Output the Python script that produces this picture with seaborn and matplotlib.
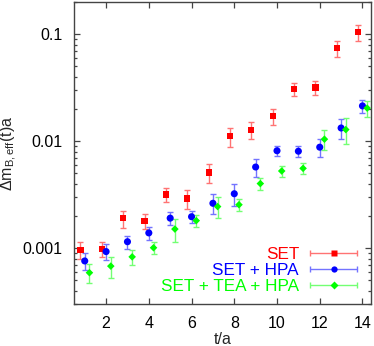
import matplotlib
matplotlib.use('Agg')
import matplotlib.pyplot as plt
import matplotlib.colors as mcolors
import numpy as np
import pandas as pd
import seaborn as sns
from matplotlib.container import ErrorbarContainer
from matplotlib.legend_handler import HandlerErrorbar
from matplotlib.ticker import FixedLocator, FuncFormatter, LogLocator, NullFormatter

# data (t/a = 1..14, series drawn slightly offset)
t = np.arange(1, 15)

set_val = [0.00096, 0.00099, 0.0019, 0.00179, 0.00318, 0.00292, 0.0051,
           0.0111, 0.0128, 0.0172, 0.0306, 0.0318, 0.0746, 0.105]
set_err = [0.000175, 0.00016, 0.00035, 0.00028, 0.00047, 0.00058, 0.001,
           0.0022, 0.0022, 0.0029, 0.0041, 0.005, 0.0127, 0.018]

hpa_val = [0.00076, 0.00093, 0.00115, 0.00139, 0.00191, 0.00197, 0.00263,
           0.00323, 0.00574, 0.00815, 0.00807, 0.0088, 0.0133, 0.0214]
hpa_err = [0.00014, 0.000155, 0.00016, 0.0002, 0.00026, 0.00024, 0.00055,
           0.00074, 0.00106, 0.00093, 0.00095, 0.0016, 0.0029, 0.0029]

tea_val = [0.00059, 0.00068, 0.00083, 0.00101, 0.00151, 0.00181, 0.00245,
           0.00255, 0.00402, 0.00527, 0.00558, 0.01045, 0.01285, 0.0204]
tea_err = [0.000117, 0.00015, 0.00014, 0.000125, 0.00037, 0.00023, 0.00054,
           0.00032, 0.00053, 0.00066, 0.00068, 0.0022, 0.0035, 0.0034]

names = ['SET', 'SET + HPA', 'SET + TEA + HPA']
colors = ['#ff0000', '#0000ff', '#00ff00']
markers = ['s', 'o', 'D']
sizes = [20, 26, 15]
shifts = [-0.2, 0.0, 0.22]

frames = []
for name, vals, errs, sh in zip(names, [set_val, hpa_val, tea_val],
                                [set_err, hpa_err, tea_err], shifts):
    frames.append(pd.DataFrame({'t': t, 'x': t + sh, 'value': vals,
                                'err': errs, 'series': name}))
df = pd.concat(frames, ignore_index=True)

def lighten(c, amt=0.45):
    r = np.array(mcolors.to_rgb(c))
    return tuple(r + (1 - r) * amt)

sns.set_theme(style='ticks')
plt.rcParams['font.family'] = ['Liberation Sans', 'DejaVu Sans']
plt.rcParams['mathtext.fontset'] = 'custom'
plt.rcParams['mathtext.rm'] = 'Liberation Sans'
plt.rcParams['mathtext.it'] = 'Liberation Sans:italic'
plt.rcParams['mathtext.default'] = 'regular'

fig, ax = plt.subplots(figsize=(3.74, 3.46), dpi=100)
fig.subplots_adjust(left=0.198, right=0.992, bottom=0.121, top=0.994)

for name, c in zip(names, colors):
    d = df[df.series == name]
    ax.errorbar(d.x, d.value, yerr=d.err, fmt='none', ecolor=lighten(c),
                elinewidth=1, capsize=2.5, capthick=1, zorder=2)

sns.scatterplot(data=df, x='x', y='value', hue='series', style='series',
                size='series', palette=dict(zip(names, colors)),
                markers=dict(zip(names, markers)),
                sizes=dict(zip(names, sizes)), linewidth=0,
                legend=False, ax=ax, zorder=3)

ax.set_yscale('log')
ax.set_xlim(0.5, 14.4)
ax.set_ylim(0.0003, 0.2)

ax.xaxis.set_major_locator(FixedLocator([2, 4, 6, 8, 10, 12, 14]))
ax.yaxis.set_major_locator(FixedLocator([0.001, 0.01, 0.1]))
ax.yaxis.set_major_formatter(FuncFormatter(lambda v, p: f'{v:g}'))
ax.yaxis.set_minor_locator(LogLocator(base=10, subs=np.arange(2, 10)))
ax.yaxis.set_minor_formatter(NullFormatter())

spine_col = '#444444'
for s in ax.spines.values():
    s.set_color(spine_col)
    s.set_linewidth(1.0)
ax.tick_params(which='both', direction='in', top=True, right=True,
               colors=spine_col, labelcolor='black', width=0.9)
ax.tick_params(which='major', length=4.2, pad=8.5, labelsize=11.5)
ax.tick_params(which='minor', length=2.3)

ax.set_xlabel('t/a', fontsize=11.5, labelpad=1)
ax.set_ylabel(r'Δm$_{\mathregular{B,eff}}$(t)a', fontsize=11.5, labelpad=2)

# gnuplot-like key: coloured labels, sample with horizontal error bar
handles = []
for c, m in zip(colors, markers):
    h = ax.errorbar([np.nan], [np.nan], xerr=[1], fmt=m, color=c,
                    ecolor=lighten(c), ms=4.5 if m != 'D' else 3.8,
                    mec='none', elinewidth=1, capsize=2.5, capthick=1)
    handles.append(h)
leg = ax.legend(handles, names, loc='lower right',
                bbox_to_anchor=(0.953, 0.035), borderaxespad=0, borderpad=0,
                frameon=False, markerfirst=False, fontsize=12.3,
                handlelength=2.75, handletextpad=0.65, labelspacing=0.05,
                handler_map={ErrorbarContainer: HandlerErrorbar(xerr_size=1.37)})
for txt, c in zip(leg.get_texts(), colors):
    txt.set_color(c)

plt.savefig('out.png', dpi=100)
